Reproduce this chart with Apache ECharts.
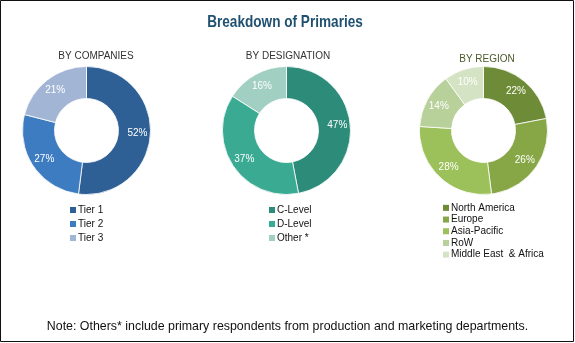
<!DOCTYPE html>
<html>
<head>
<meta charset="utf-8">
<style>
  html, body { margin: 0; padding: 0; background: #fff; }
  #chart { width: 575px; height: 343px; }
</style>
<script src="https://cdn.jsdelivr.net/npm/echarts@6/dist/echarts.min.js"></script>
</head>
<body>
<div id="chart"></div>
<script>
// Share of primary interviews, in percent
const companyNames = ['Tier 1', 'Tier 2', 'Tier 3'];
const companyValues = [52, 27, 21];
const companyColors = ['#2e6096', '#3d7cc0', '#a3b5d5'];

const designationNames = ['C-Level', 'D-Level', 'Other *'];
const designationValues = [47, 37, 16];
const designationColors = ['#2d8b79', '#3aaa93', '#a1cfc1'];

const regionNames = ['North America', 'Europe', 'Asia-Pacific', 'RoW', 'Middle East  & Africa'];
const regionValues = [22, 26, 28, 14, 10];
const regionColors = ['#6e8c37', '#87a646', '#9cc05a', '#b8d09a', '#d4e3c3'];

const chart = echarts.init(document.getElementById('chart'), null, { renderer: 'canvas' });

function toData(names, values) {
  return names.map((n, i) => ({ name: n, value: values[i] }));
}

function donut(names, values, colors, cx) {
  return {
    type: 'pie',
    center: [cx, 130.5],
    radius: [32, 64],
    startAngle: 90,
    clockwise: true,
    silent: true,
    color: colors,
    itemStyle: { borderColor: '#ffffff', borderWidth: 0.8 },
    label: {
      show: true,
      position: 'inside',
      formatter: '{c}%',
      color: '#ffffff',
      fontSize: 10,
      fontFamily: 'Liberation Sans, Arial, sans-serif'
    },
    labelLine: { show: false },
    emphasis: { disabled: true },
    data: toData(names, values)
  };
}

function legend(names, left, top, lineHeight) {
  return {
    data: names,
    orient: 'vertical',
    left: left,
    top: top,
    itemWidth: 6,
    itemHeight: 6,
    itemGap: 0,
    icon: 'rect',
    itemStyle: { borderWidth: 0 },
    selectedMode: false,
    padding: 0,
    textStyle: {
      fontSize: 10,
      color: '#111',
      fontFamily: 'Liberation Sans, Arial, sans-serif',
      lineHeight: lineHeight,
      padding: [0, 0, 0, -3]
    }
  };
}

const subStyle = {
  fontSize: 10,
  fontWeight: 'normal',
  color: '#333',
  fontFamily: 'Liberation Sans, Arial, sans-serif'
};

chart.setOption({
  backgroundColor: '#ffffff',
  animation: false,
  title: [
    { text: 'BY COMPANIES', left: 91, top: 46, textAlign: 'center', textStyle: subStyle },
    { text: 'BY DESIGNATION', left: 283, top: 46, textAlign: 'center', textStyle: subStyle },
    { text: 'BY REGION', left: 482, top: 49, textAlign: 'center', textStyle: Object.assign({}, subStyle, { color: '#4b5a2c' }) },
    {
      text: 'Note: Others* include primary respondents from production and marketing departments.',
      left: 'center',
      top: 316,
      textStyle: {
        fontSize: 12.4,
        fontWeight: 'normal',
        color: '#111',
        fontFamily: 'Liberation Sans, Arial, sans-serif'
      }
    }
  ],
  legend: [
    legend(companyNames, 70, 203, 14),
    legend(designationNames, 269, 203, 14),
    legend(regionNames, 443, 202, 11.7)
  ],
  series: [
    donut(companyNames, companyValues, companyColors, 86.5),
    donut(designationNames, designationValues, designationColors, 286.5),
    donut(regionNames, regionValues, regionColors, 483.5)
  ],
  graphic: [
    {
      // condensed bold heading
      type: 'text',
      silent: true,
      x: 285,
      y: 22,
      scaleX: 0.8,
      style: {
        text: 'Breakdown of Primaries',
        align: 'center',
        verticalAlign: 'middle',
        fill: '#1f5070',
        font: 'bold 17px "Liberation Sans", Arial, sans-serif'
      }
    },
    {
      type: 'rect',
      silent: true,
      shape: { x: 0.5, y: 0.5, width: 573, height: 341 },
      style: { fill: 'none', stroke: '#111', lineWidth: 1 }
    }
  ]
});
</script>
</body>
</html>
